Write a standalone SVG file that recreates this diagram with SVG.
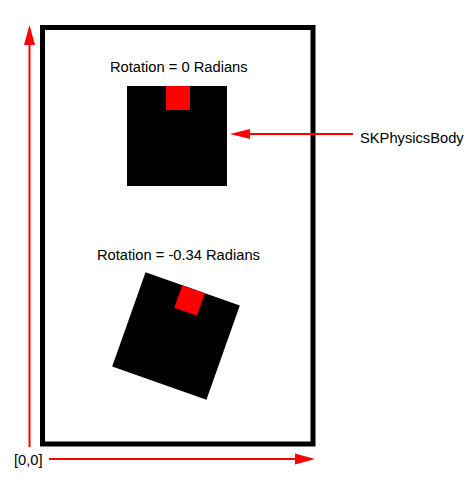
<svg xmlns="http://www.w3.org/2000/svg" width="476" height="487" viewBox="0 0 476 487">
<defs>
<style>
.lbl{font-family:"Liberation Sans",Arial,sans-serif;font-size:14.7px;fill:#000}
.ax{stroke:#ff0000;stroke-width:2;fill:none}
.head{fill:#ff0000}
</style>
</defs>
<rect width="476" height="487" fill="#fff"/>
<g id="scene">
<rect x="42.5" y="27.5" width="270.5" height="416.5" fill="none" stroke="#000" stroke-width="5"/>
</g>
<g id="connectors">
<line class="ax" x1="29.5" y1="44" x2="29.5" y2="447"/>
<polygon class="head" points="29.5,25 35,45 24,45"/>
<line class="ax" x1="49" y1="459" x2="297" y2="459"/>
<polygon class="head" points="315,459 295,453.5 295,464.5"/>
<line class="ax" x1="353" y1="134" x2="248" y2="134"/>
<polygon class="head" points="230,134 250,129 250,139"/>
</g>
<g id="body-upright">
<text class="lbl" x="110" y="72">Rotation = 0 Radians</text>
<rect x="127" y="86" width="100" height="100" fill="#000"/>
<rect x="166" y="86" width="24" height="24" fill="#ff0000"/>
</g>
<g id="body-rotated">
<text class="lbl" x="97" y="260">Rotation = -0.34 Radians</text>
<g transform="translate(176,336) rotate(19.5)">
<rect x="-50" y="-50" width="100" height="100" fill="#000"/>
<rect x="-11" y="-50" width="24" height="24" fill="#ff0000"/>
</g>
</g>
<g id="label-body">
<text class="lbl" x="360" y="143">SKPhysicsBody</text>
</g>
<g id="label-origin">
<text class="lbl" x="14" y="465">[0,0]</text>
</g>
</svg>
